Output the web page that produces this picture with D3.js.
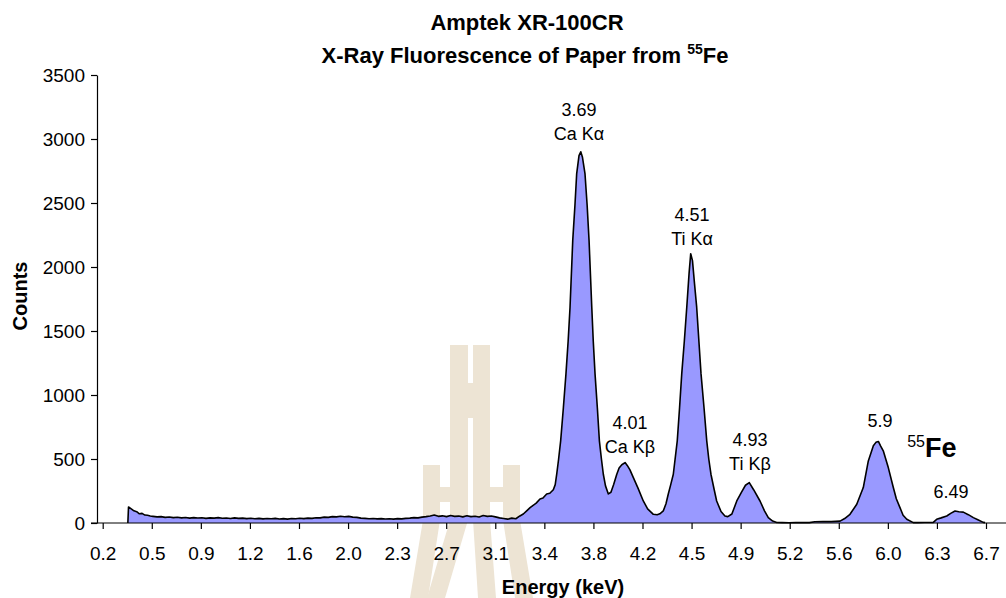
<!DOCTYPE html>
<html lang="en">
<head>
<meta charset="utf-8">
<script src="https://d3js.org/d3.v7.min.js"></script>
<title>Amptek XR-100CR - XRF of Paper</title>
<style>
  body { margin: 0; background: #fff; }
  svg text { font-family: "Liberation Sans", Arial, sans-serif; fill: #000; }
</style>
</head>
<body>
<div id="chart"></div>
<script>

// spectrum (keV, counts)
const energy = [
  0.385, 0.39, 0.41, 0.43, 0.45, 0.47, 0.49, 0.51, 0.53, 0.55, 0.57, 0.60, 0.63, 0.66, 0.69, 0.72, 0.75, 0.78,
  0.81, 0.84, 0.87, 0.90, 0.93, 0.96, 0.99, 1.02, 1.05, 1.08, 1.11, 1.14, 1.17, 1.20, 1.23, 1.26, 1.29, 1.32,
  1.35, 1.38, 1.41, 1.44, 1.47, 1.50, 1.53, 1.56, 1.59, 1.62, 1.65, 1.68, 1.71, 1.74, 1.77, 1.80, 1.83, 1.86,
  1.89, 1.92, 1.95, 1.98, 2.01, 2.04, 2.07, 2.10, 2.13, 2.16, 2.19, 2.22, 2.25, 2.28, 2.31, 2.34, 2.37, 2.40,
  2.43, 2.46, 2.49, 2.52, 2.55, 2.58, 2.61, 2.64, 2.67, 2.70, 2.73, 2.76, 2.79, 2.82, 2.85, 2.88, 2.91, 2.94,
  2.97, 3.00, 3.03, 3.06, 3.09, 3.12, 3.15, 3.18, 3.21, 3.24, 3.27,
  3.295, 3.32, 3.345, 3.37, 3.39, 3.418, 3.44, 3.467, 3.49, 3.516, 3.53, 3.541, 3.555, 3.570, 3.59, 3.609,
  3.625, 3.639, 3.659, 3.675, 3.688, 3.705, 3.718, 3.73, 3.749, 3.765, 3.779, 3.799, 3.81, 3.823, 3.84, 3.855,
  3.87, 3.884, 3.90, 3.921, 3.94, 3.96, 3.983, 4.00, 4.02, 4.044, 4.06, 4.08, 4.105, 4.14, 4.178, 4.21, 4.252,
  4.28, 4.30, 4.325, 4.345, 4.362, 4.38, 4.399, 4.428, 4.445, 4.461, 4.48, 4.498, 4.515, 4.527, 4.54, 4.555,
  4.571, 4.603, 4.625, 4.645, 4.66, 4.676, 4.70, 4.718, 4.75, 4.779, 4.80, 4.83, 4.866, 4.90, 4.93, 4.958,
  4.99, 5.037, 5.07, 5.098, 5.13, 5.16, 5.20, 5.25, 5.30, 5.35, 5.40, 5.44, 5.50, 5.56, 5.626, 5.66, 5.699,
  5.749, 5.797, 5.834, 5.871, 5.89, 5.908, 5.925, 5.944, 5.981, 6.018, 6.04, 6.067, 6.09, 6.117, 6.165, 6.20,
  6.25, 6.312, 6.337, 6.37, 6.411, 6.44, 6.472, 6.50, 6.533, 6.57, 6.607, 6.64, 6.68, 6.693
];
const counts = [
  0, 125, 110, 95, 88, 72, 75, 62, 60, 55, 52, 48, 50, 44, 47, 42, 45, 40,
  43, 38, 42, 39, 41, 36, 40, 38, 42, 37, 39, 35, 40, 36, 38, 34, 37, 33,
  36, 32, 35, 33, 36, 31, 34, 30, 35, 33, 37, 34, 38, 36, 41, 40, 46, 44,
  50, 48, 53, 49, 52, 46, 44, 38, 36, 33, 35, 32, 34, 31, 33, 30, 34, 32,
  36, 38, 42, 40, 46, 50, 55, 62, 52, 56, 50, 58, 52, 54, 48, 56, 50, 53,
  47, 58, 52, 55, 48, 40, 35, 30, 38, 33, 55,
  70, 95, 120, 140, 155, 188, 195, 227, 232, 260, 300, 381, 500, 642, 900, 1165,
  1420, 1686, 2208, 2480, 2730, 2870, 2900, 2860, 2730, 2480, 2208, 1686, 1420, 1165, 900, 642,
  500, 381, 290, 227, 240, 300, 381, 430, 455, 472, 450, 415, 355, 270, 172, 110, 68,
  65, 72, 94, 150, 227, 300, 381, 642, 900, 1165, 1420, 1686, 1950, 2104, 2050, 1870,
  1686, 1165, 900, 642, 500, 381, 260, 172, 90, 55, 50, 70, 172, 240, 295, 316,
  260, 172, 95, 42, 15, 4, 3, 2, 4, 3, 3, 10, 12, 11, 15, 35, 68,
  146, 277, 485, 603, 630, 637, 600, 564, 433, 277, 190, 120, 60, 29, 3, 3,
  4, 5, 29, 40, 55, 75, 94, 88, 85, 65, 42, 25, 5, 3
];

const xTickLabels = ["0.2", "0.5", "0.9", "1.2", "1.6", "2.0", "2.3", "2.7", "3.1", "3.4",
                     "3.8", "4.2", "4.5", "4.9", "5.2", "5.6", "6.0", "6.3", "6.7"];
const yTicks = [0, 500, 1000, 1500, 2000, 2500, 3000, 3500];

// peak annotations
const peakEnergy = [3.705, 4.080, 4.537, 4.963, 5.92, 6.443];
const peakValue = ["3.69", "4.01", "4.51", "4.93", "5.9", "6.49"];
const peakLine = ["Ca K\u03b1", "Ca K\u03b2", "Ti K\u03b1", "Ti K\u03b2", "", ""];
const peakLabelCounts = [2992, 547, 2172, 414, 750, 195];

const W = 1006, H = 598;
const svg = d3.select("#chart").append("svg")
  .attr("width", W).attr("height", H);

// faint watermark behind the chart
const wm = svg.append("g").attr("fill", "#ede4d4");
[
  [[450,345],[468,345],[468,520],[445,598],[427,598],[450,520]],
  [[473,345],[490,345],[490,520],[496,598],[478,598],[473,520]],
  [[468,383],[473,383],[473,418],[468,418]],
  [[423,465],[440,465],[440,520],[428,598],[410,598],[423,520]],
  [[503,465],[520,465],[520,520],[533,598],[515,598],[503,520]],
  [[440,487],[450,487],[450,502],[440,502]],
  [[490,487],[503,487],[503,502],[490,502]]
].forEach(p => wm.append("polygon").attr("points", p.map(q => q.join(",")).join(" ")));

const x = d3.scaleLinear().domain([0.2, 6.7]).range([102.7, 986]);
const y = d3.scaleLinear().domain([0, 3500]).range([523, 75]);
const axisX = 97;

const data = energy.map((e, i) => ({ e: e, c: counts[i] }));

// filled spectrum
svg.append("path")
  .datum(data)
  .attr("fill", "#9999ff")
  .attr("d", d3.area().x(d => x(d.e)).y0(y(0)).y1(d => y(d.c)));

svg.append("path")
  .datum(data)
  .attr("fill", "none")
  .attr("stroke", "#000")
  .attr("stroke-width", 1.6)
  .attr("stroke-linejoin", "round")
  .attr("d", d3.line().x(d => x(d.e)).y(d => y(d.c)));

// y axis
const gy = svg.append("g")
  .attr("transform", `translate(${axisX},0)`)
  .call(d3.axisLeft(y).tickValues(yTicks).tickFormat(d3.format("d")).tickSizeOuter(0).tickPadding(6));
gy.selectAll("text").style("font-size", "19px").style("font-family", "'Liberation Sans', Arial, sans-serif");

// x axis, ticks evenly spaced like a category axis
const step = (6.7 - 0.2) / (xTickLabels.length - 1);
const gx = svg.append("g")
  .attr("transform", `translate(0,${y(0)})`)
  .call(d3.axisBottom(x)
    .tickValues(xTickLabels.map((t, i) => 0.2 + i * step))
    .tickFormat((d, i) => xTickLabels[i])
    .tickSizeOuter(0)
    .tickPadding(18));
gx.select(".domain").remove();
gx.selectAll("text").style("font-size", "19px").style("font-family", "'Liberation Sans', Arial, sans-serif");
svg.append("line")
  .attr("x1", axisX - 6).attr("x2", W)
  .attr("y1", y(0)).attr("y2", y(0))
  .attr("stroke", "#000");
svg.selectAll(".domain, .tick line").attr("stroke", "#000").attr("stroke-width", 1.2);

// peak labels
const lab = svg.append("g").attr("text-anchor", "middle").style("font-size", "18px");
peakEnergy.forEach((e, i) => {
  const two = peakLine[i] !== "";
  lab.append("text")
    .attr("x", x(e))
    .attr("y", y(peakLabelCounts[i]) - (two ? 24 : 0))
    .text(peakValue[i]);
  if (two) {
    lab.append("text")
      .attr("x", x(e))
      .attr("y", y(peakLabelCounts[i]))
      .text(peakLine[i]);
  }
});

// 55Fe source marker
const fe = svg.append("text")
  .attr("x", x(6.12))
  .attr("y", y(516));
fe.append("tspan").style("font-size", "16px").attr("dy", -10).text("55");
fe.append("tspan").style("font-size", "27px").style("font-weight", "bold").attr("dy", 10).text("Fe");

// titles
svg.append("text")
  .attr("x", 527).attr("y", 30)
  .attr("text-anchor", "middle")
  .style("font-size", "22px").style("font-weight", "bold")
  .text("Amptek XR-100CR");

const t2 = svg.append("text")
  .attr("x", 525).attr("y", 63)
  .attr("text-anchor", "middle")
  .style("font-size", "22px").style("font-weight", "bold");
t2.append("tspan").text("X-Ray Fluorescence of Paper from ");
t2.append("tspan").style("font-size", "14px").attr("dy", -9).text("55");
t2.append("tspan").attr("dy", 9).text("Fe");

svg.append("text")
  .attr("x", 563).attr("y", 594)
  .attr("text-anchor", "middle")
  .style("font-size", "20px").style("font-weight", "bold")
  .text("Energy (keV)");

svg.append("text")
  .attr("transform", "translate(27,296) rotate(-90)")
  .attr("text-anchor", "middle")
  .style("font-size", "20px").style("font-weight", "bold")
  .text("Counts");

</script>
</body>
</html>
